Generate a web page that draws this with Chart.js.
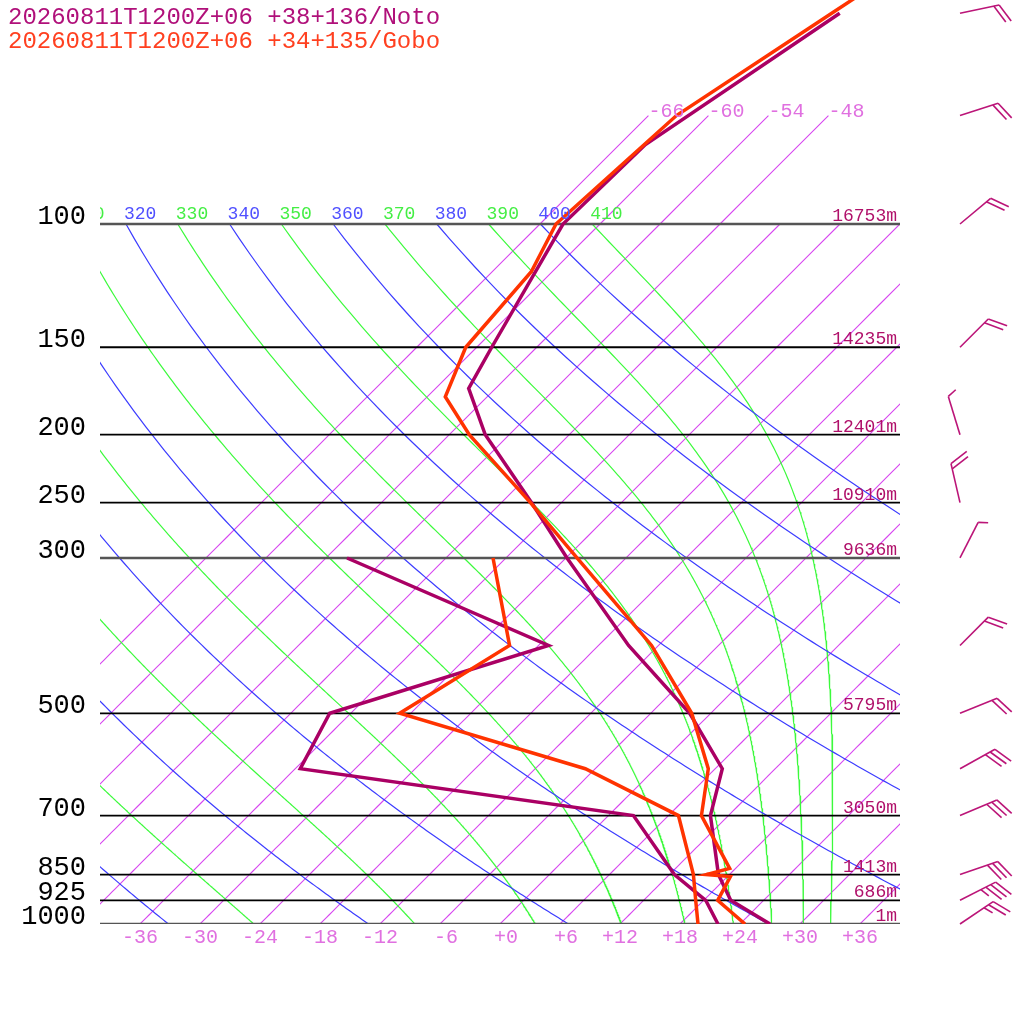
<!DOCTYPE html>
<html><head><meta charset="utf-8">
<style>html,body{margin:0;padding:0;background:#fff;}canvas{display:block;}</style>
<script src="https://cdn.jsdelivr.net/npm/chart.js@4.4.0/dist/chart.umd.min.js"></script>
</head><body>
<canvas id="c" width="1024" height="1024"></canvas>
<script>
// ---------------- data ----------------
const legendLines = ["20260811T1200Z+06 +38+136/Noto", "20260811T1200Z+06 +34+135/Gobo"];
const pressureLevels = [1000, 925, 850, 700, 500, 300, 250, 200, 150, 100];
const heightLabels = ["1m", "686m", "1413m", "3050m", "5795m", "9636m", "10910m", "12401m", "14235m", "16753m"];
const tempTicks = [-36, -30, -24, -18, -12, -6, 0, 6, 12, 18, 24, 30, 36];
const isotherms = [-66, -60, -54, -48, -42, -36, -30, -24, -18, -12, -6, 0, 6, 12, 18, 24, 30, 36];
const labeledIsotherms = [-66, -60, -54, -48];
const dryThetas = [240, 260, 280, 300, 320, 340, 360, 380, 400];
const moistThetas = [250, 270, 290, 310, 330, 350, 370, 390, 410];

const notoTempP = [1000, 925, 850, 700, 600, 500, 400, 300, 250, 200, 171.7, 150, 100, 77, 50];
const notoTemp  = [27.0, 20.7, 16.9, 10.2, 6.7, -2.1, -15.0, -29.9, -39.0, -50.4, -56.7, -58.5, -63.7, -63.4, -57.1];
const notoDewP  = [1000, 925, 850, 700, 600, 500, 400, 300];
const notoDew   = [21.8, 18.2, 12.5, 2.5, -35.5, -38.1, -23.0, -51.9];

const goboTempP = [1000, 925, 855.6, 850, 832.7, 700, 600, 500, 400, 300, 250, 200, 176.5, 150, 117, 100, 70, 50, 30];
const goboTemp  = [24.5, 19.4, 18.3, 15.7, 17.4, 9.3, 5.3, -1.9, -12.7, -28.9, -39.1, -52.0, -58.2, -61.1, -62.1, -64.4, -63.2, -57.9, -49.9];
const goboDewP  = [1000, 925, 850, 700, 600, 500, 400, 300];
const goboDew   = [19.8, 17.2, 14.4, 7.0, -7.0, -31.1, -26.9, -37.3];

const windP   = [50, 70, 100, 150, 200, 250, 300, 400, 500, 600, 700, 850, 925, 1000];
const windDir = [78, 72, 50, 45, 343, 347, 27, 45, 68, 61, 67, 71, 63, 56];
const windKt  = [20, 20, 20, 20, 5, 20, 5, 20, 20, 30, 30, 30, 35, 25];

// ---------------- thermodynamics / geometry ----------------
const SKEW = 70;            // skewed-degree units per pressure decade (45 deg)
const KAPPA = 0.2857;
const P_TOP = 1000 / Math.pow(10, 924 / 700);
const skewX = (T, p) => T + SKEW * Math.log10(1000 / p);
const theta100 = th => th * Math.pow(0.1, KAPPA) - 273.15;

const NOTO = 'rgb(170,0,100)', GOBO = 'rgb(255,51,0)';
const ISO_COLOR = 'rgb(215,70,240)', DRY_COLOR = 'rgb(60,60,255)', MOIST_COLOR = 'rgb(60,250,60)';

function es(Tc) { return 6.112 * Math.exp(17.67 * Tc / (Tc + 243.5)); }
function moistLapse(p, Tk) {
  const e = es(Tk - 273.15), rs = 0.622 * e / (p - e);
  const Rd = 287.04, cp = 1005.7, Lv = 2.501e6, eps = 0.622;
  return ((Rd * Tk + Lv * rs) / p) / (cp + Lv * Lv * rs * eps / (Rd * Tk * Tk));
}
function moistCurve(th) {
  let p = 100, T = th * Math.pow(0.1, KAPPA);
  const pts = [{x: skewX(T - 273.15, p), y: p}];
  const dp = 2;
  while (p < 1000 - 1e-9) {
    const k1 = moistLapse(p, T);
    const k2 = moistLapse(p + dp / 2, T + dp / 2 * k1);
    const k3 = moistLapse(p + dp / 2, T + dp / 2 * k2);
    const k4 = moistLapse(p + dp, T + dp * k3);
    T += dp / 6 * (k1 + 2 * k2 + 2 * k3 + k4);
    p += dp;
    pts.push({x: skewX(T - 273.15, p), y: p});
  }
  return pts;
}
function dryCurve(th) {
  const pts = [];
  for (let p = 100; p <= 1000; p += 5) pts.push({x: skewX(th * Math.pow(p / 1000, KAPPA) - 273.15, p), y: p});
  return pts;
}
function isothermLine(T) {
  const top = labeledIsotherms.includes(T) ? 70 : 100;
  const pts = [];
  for (let p = 1000; p >= top; p -= 10) pts.push({x: skewX(T, p), y: p});
  if (pts[pts.length - 1].y !== top) pts.push({x: skewX(T, top), y: top});
  return pts;
}
const profile = (P, T) => P.map((p, i) => ({x: skewX(T[i], p), y: p}));

// ---------------- datasets ----------------
const datasets = [];
const lineDs = (data, color, width, order) => ({data, borderColor: color, backgroundColor: color, borderWidth: width,
  showLine: true, pointRadius: 0, pointHoverRadius: 0, tension: 0, fill: false, order});

isotherms.forEach(T => datasets.push(lineDs(isothermLine(T), ISO_COLOR, 1.1, 20)));
dryThetas.forEach(th => datasets.push(lineDs(dryCurve(th), DRY_COLOR, 1.2, 19)));
moistThetas.forEach(th => datasets.push(lineDs(moistCurve(th), MOIST_COLOR, 1.2, 19)));
pressureLevels.forEach(p => {
  const heavy = (p === 100 || p === 300 || p === 1000);
  datasets.push(lineDs([{x: -40, y: p}, {x: 40, y: p}], heavy ? '#555' : '#000', heavy ? 2.5 : 1.8, 10));
});
datasets.push(lineDs(profile(notoDewP, notoDew), NOTO, 3.5, 4));
datasets.push(lineDs(profile(notoTempP, notoTemp), NOTO, 3.5, 3));
datasets.push(lineDs(profile(goboDewP, goboDew), GOBO, 3.5, 2));
datasets.push(lineDs(profile(goboTempP, goboTemp), GOBO, 3.5, 1));

// ---------------- text & barbs ----------------
const overlay = {
  id: 'overlay',
  afterDatasetsDraw(chart) {
    const {ctx, chartArea: ca, scales: {x, y}} = chart;
    ctx.save();
    // legend
    ctx.font = '24px "Liberation Mono"';
    ctx.textAlign = 'left'; ctx.textBaseline = 'alphabetic';
    ctx.fillStyle = '#b0107a'; ctx.fillText(legendLines[0], 8, 24);
    ctx.fillStyle = '#ff4020'; ctx.fillText(legendLines[1], 8, 48);

    // pressure labels
    ctx.font = '27px "Liberation Mono"';
    ctx.fillStyle = '#000'; ctx.textAlign = 'right';
    pressureLevels.forEach(p => ctx.fillText(String(p), 86, y.getPixelForValue(p)));

    // height labels
    ctx.font = '18px "Liberation Mono"';
    ctx.fillStyle = '#b0106a';
    pressureLevels.forEach((p, i) => ctx.fillText(heightLabels[i], ca.right - 3, y.getPixelForValue(p) - 3));

    // temperature tick labels
    ctx.font = '20px "Liberation Mono"';
    ctx.fillStyle = '#e070e0'; ctx.textAlign = 'center';
    const yb = y.getPixelForValue(1000);
    tempTicks.forEach(T => {
      const s = (T < 0 ? '-' + Math.abs(T) : '+' + T).padStart(3, ' ');
      ctx.fillText(s, x.getPixelForValue(skewX(T, 1000)), yb + 19);
    });
    // isotherm labels
    ctx.textAlign = 'left';
    labeledIsotherms.forEach(T => ctx.fillText(String(T), x.getPixelForValue(skewX(T, 70)), y.getPixelForValue(70) + 1));

    // theta labels, clipped to the plot width
    ctx.save();
    ctx.beginPath(); ctx.rect(ca.left, 0, ca.right - ca.left, ca.bottom); ctx.clip();
    ctx.font = '18px "Liberation Mono"';
    const y100 = y.getPixelForValue(100) - 5;
    const all = [];
    dryThetas.forEach(t => all.push([t, '#5050ff']));
    moistThetas.forEach(t => all.push([t, '#44ee44']));
    all.forEach(([t, c]) => { ctx.fillStyle = c; ctx.fillText(String(t), x.getPixelForValue(skewX(theta100(t), 100)) - 2, y100); });
    ctx.restore();

    // wind barbs
    ctx.strokeStyle = '#bb1578'; ctx.lineWidth = 1.6; ctx.lineCap = 'butt';
    const bx = ca.right + 60, L = 40, full = 20, half = 10, gap = 5.5, rot = 65 * Math.PI / 180;
    windP.forEach((p, i) => {
      const by = y.getPixelForValue(p);
      const d = windDir[i] * Math.PI / 180;
      const ux = Math.sin(d), uy = -Math.cos(d);
      const tx = bx + L * ux, ty = by + L * uy;
      ctx.beginPath(); ctx.moveTo(bx, by); ctx.lineTo(tx, ty); ctx.stroke();
      const vx = ux * Math.cos(rot) - uy * Math.sin(rot), vy = ux * Math.sin(rot) + uy * Math.cos(rot);
      let spd = windKt[i], k = 0;
      while (spd >= 10) {
        const sx = tx - ux * gap * k, sy = ty - uy * gap * k;
        ctx.beginPath(); ctx.moveTo(sx, sy); ctx.lineTo(sx + vx * full, sy + vy * full); ctx.stroke();
        spd -= 10; k++;
      }
      if (spd >= 5) {
        const sx = tx - ux * gap * k, sy = ty - uy * gap * k;
        ctx.beginPath(); ctx.moveTo(sx, sy); ctx.lineTo(sx + vx * half, sy + vy * half); ctx.stroke();
      }
    });
    ctx.restore();
  }
};

new Chart(document.getElementById('c'), {
  type: 'scatter',
  data: {datasets},
  options: {
    responsive: false, animation: false, devicePixelRatio: 1, events: [],
    layout: {padding: {left: 100, right: 124, top: 0, bottom: 100}},
    plugins: {legend: {display: false}, tooltip: {enabled: false}},
    scales: {
      x: {type: 'linear', min: -40, max: 40, display: false},
      y: {type: 'logarithmic', min: P_TOP, max: 1000, reverse: true, display: false}
    }
  },
  plugins: [overlay]
});
</script>
</body></html>
